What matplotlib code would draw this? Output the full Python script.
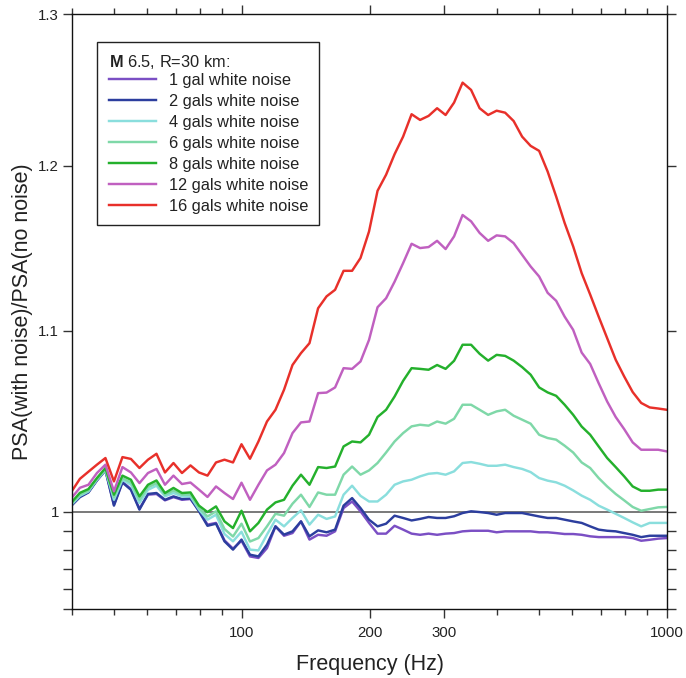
import matplotlib
matplotlib.use("Agg")
import matplotlib.pyplot as plt
from matplotlib.ticker import FixedLocator, NullFormatter, FixedFormatter

plt.rcParams['font.family'] = ['Liberation Sans', 'DejaVu Sans']
plt.rcParams['mathtext.fontset'] = 'custom'
plt.rcParams['mathtext.rm'] = 'Liberation Sans'
plt.rcParams['mathtext.bf'] = 'Liberation Sans:bold'

freq = [39.81, 41.69, 43.65, 45.71, 47.86, 50.12, 52.48, 54.95, 57.54, 60.26,
        63.10, 66.07, 69.18, 72.44, 75.86, 79.43, 83.18, 87.10, 91.20, 95.50,
        100.0, 104.7, 109.6, 114.8, 120.2, 125.9, 131.8, 138.0, 144.5, 151.4,
        158.5, 166.0, 173.8, 182.0, 190.5, 199.5, 208.9, 218.8, 229.1, 239.9,
        251.2, 263.0, 275.4, 288.4, 302.0, 316.2, 331.1, 346.7, 363.1, 380.2,
        398.1, 416.9, 436.5, 457.1, 478.6, 501.2, 524.8, 549.5, 575.4, 602.6,
        631.0, 660.7, 691.8, 724.4, 758.6, 794.3, 831.8, 871.0, 912.0, 955.0,
        1000.0]

noise_1 = [1.0033, 1.0081, 1.0104, 1.0167, 1.0222, 1.0037, 1.0159, 1.0120, 1.0016, 1.0090,
           1.0094, 1.0060, 1.0077, 1.0063, 1.0067, 1.0007, 0.9932, 0.9941, 0.9850, 0.9807,
           0.9848, 0.9767, 0.9759, 0.9810, 0.9923, 0.9874, 0.9888, 0.9949, 0.9854, 0.9879,
           0.9874, 0.9897, 1.0019, 1.0054, 1.0002, 0.9941, 0.9885, 0.9885, 0.9926, 0.9906,
           0.9885, 0.9879, 0.9885, 0.9879, 0.9885, 0.9888, 0.9897, 0.9900, 0.9900, 0.9900,
           0.9892, 0.9897, 0.9897, 0.9897, 0.9897, 0.9892, 0.9892, 0.9888, 0.9883, 0.9883,
           0.9879, 0.9871, 0.9867, 0.9867, 0.9867, 0.9867, 0.9862, 0.9848, 0.9853, 0.9859,
           0.9862]
noise_2 = [1.0032, 1.0077, 1.0102, 1.0166, 1.0220, 1.0032, 1.0155, 1.0116, 1.0011, 1.0094,
           1.0099, 1.0063, 1.0081, 1.0067, 1.0070, 1.0002, 0.9926, 0.9937, 0.9845, 0.9802,
           0.9854, 0.9776, 0.9767, 0.9828, 0.9923, 0.9880, 0.9897, 0.9949, 0.9871, 0.9902,
           0.9892, 0.9906, 1.0032, 1.0072, 1.0019, 0.9958, 0.9923, 0.9937, 0.9979, 0.9967,
           0.9954, 0.9962, 0.9972, 0.9967, 0.9967, 0.9976, 0.9993, 1.0002, 0.9998, 0.9993,
           0.9984, 0.9993, 0.9993, 0.9993, 0.9984, 0.9975, 0.9967, 0.9967, 0.9958, 0.9949,
           0.9941, 0.9923, 0.9906, 0.9900, 0.9897, 0.9888, 0.9879, 0.9867, 0.9874, 0.9874,
           0.9874]
noise_4 = [1.0037, 1.0084, 1.0107, 1.0170, 1.0223, 1.0063, 1.0170, 1.0143, 1.0046, 1.0116,
           1.0138, 1.0081, 1.0099, 1.0081, 1.0081, 1.0011, 0.9958, 0.9984, 0.9883, 0.9845,
           0.9895, 0.9802, 0.9798, 0.9880, 0.9958, 0.9923, 0.9967, 1.0007, 0.9932, 0.9984,
           0.9962, 0.9975, 1.0090, 1.0138, 1.0084, 1.0054, 1.0054, 1.0090, 1.0143, 1.0161,
           1.0170, 1.0188, 1.0202, 1.0206, 1.0197, 1.0215, 1.0260, 1.0265, 1.0256, 1.0245,
           1.0245, 1.0251, 1.0238, 1.0228, 1.0211, 1.0179, 1.0165, 1.0156, 1.0138, 1.0113,
           1.0085, 1.0063, 1.0032, 1.0011, 0.9989, 0.9967, 0.9944, 0.9923, 0.9941, 0.9941,
           0.9941]
noise_6 = [1.0042, 1.0090, 1.0112, 1.0172, 1.0225, 1.0077, 1.0178, 1.0155, 1.0063, 1.0130,
           1.0151, 1.0090, 1.0112, 1.0090, 1.0090, 1.0019, 0.9975, 1.0002, 0.9909, 0.9870,
           0.9937, 0.9844, 0.9862, 0.9923, 0.9989, 0.9979, 1.0042, 1.0090, 1.0025, 1.0102,
           1.0090, 1.0090, 1.0197, 1.0241, 1.0197, 1.0220, 1.0260, 1.0317, 1.0377, 1.0423,
           1.0460, 1.0469, 1.0464, 1.0487, 1.0475, 1.0502, 1.0580, 1.0580, 1.0552, 1.0524,
           1.0543, 1.0552, 1.0519, 1.0497, 1.0475, 1.0414, 1.0396, 1.0387, 1.0354, 1.0317,
           1.0263, 1.0233, 1.0179, 1.0134, 1.0094, 1.0060, 1.0025, 1.0005, 1.0014, 1.0023,
           1.0025]
noise_8 = [1.0049, 1.0100, 1.0120, 1.0179, 1.0233, 1.0090, 1.0192, 1.0170, 1.0081, 1.0143,
           1.0166, 1.0099, 1.0126, 1.0099, 1.0102, 1.0032, 0.9998, 1.0028, 0.9949, 0.9914,
           1.0005, 0.9897, 0.9941, 1.0011, 1.0049, 1.0063, 1.0138, 1.0197, 1.0143, 1.0238,
           1.0233, 1.0241, 1.0350, 1.0377, 1.0372, 1.0414, 1.0512, 1.0552, 1.0626, 1.0714,
           1.0786, 1.0782, 1.0777, 1.0804, 1.0782, 1.0828, 1.0920, 1.0920, 1.0868, 1.0829,
           1.0862, 1.0856, 1.0829, 1.0792, 1.0749, 1.0677, 1.0649, 1.0630, 1.0580, 1.0524,
           1.0459, 1.0414, 1.0350, 1.0287, 1.0238, 1.0188, 1.0134, 1.0111, 1.0111, 1.0117,
           1.0117]
noise_12 = [1.0072, 1.0127, 1.0143, 1.0206, 1.0251, 1.0108, 1.0238, 1.0209, 1.0152, 1.0206,
            1.0228, 1.0143, 1.0192, 1.0147, 1.0155, 1.0117, 1.0078, 1.0134, 1.0099, 1.0067,
            1.0154, 1.0063, 1.0143, 1.0220, 1.0251, 1.0314, 1.0423, 1.0482, 1.0487, 1.0645,
            1.0648, 1.0677, 1.0786, 1.0782, 1.0824, 1.0948, 1.1138, 1.1191, 1.1289, 1.1400,
            1.1517, 1.1491, 1.1497, 1.1535, 1.1485, 1.1562, 1.1693, 1.1654, 1.1583, 1.1535,
            1.1568, 1.1562, 1.1521, 1.1450, 1.1380, 1.1320, 1.1223, 1.1176, 1.1083, 1.1006,
            1.0875, 1.0810, 1.0701, 1.0598, 1.0512, 1.0445, 1.0372, 1.0332, 1.0332, 1.0332,
            1.0323]
noise_16 = [1.0106, 1.0175, 1.0213, 1.0251, 1.0287, 1.0161, 1.0292, 1.0282, 1.0233, 1.0278,
            1.0310, 1.0209, 1.0260, 1.0206, 1.0247, 1.0209, 1.0192, 1.0263, 1.0278, 1.0263,
            1.0362, 1.0283, 1.0377, 1.0487, 1.0552, 1.0664, 1.0804, 1.0872, 1.0929, 1.1132,
            1.1202, 1.1241, 1.1354, 1.1354, 1.1431, 1.1592, 1.1843, 1.1944, 1.2074, 1.2186,
            1.2331, 1.2294, 1.2320, 1.2370, 1.2326, 1.2407, 1.2538, 1.2490, 1.2370, 1.2326,
            1.2354, 1.2341, 1.2287, 1.2186, 1.2127, 1.2095, 1.1964, 1.1808, 1.1644, 1.1501,
            1.1340, 1.1213, 1.1083, 1.0958, 1.0834, 1.0739, 1.0651, 1.0590, 1.0565, 1.0559,
            1.0552]

series = [noise_1, noise_2, noise_4, noise_6, noise_8, noise_12, noise_16]
labels = ["1 gal white noise", "2 gals white noise", "4 gals white noise",
          "6 gals white noise", "8 gals white noise", "12 gals white noise",
          "16 gals white noise"]
colors = ["#7b4fc4", "#2c3e9e", "#8adedd", "#7fd8a8", "#24b02c", "#c060c0", "#e8302a"]

x_major = [100, 200, 300, 1000]
x_major_labels = ["100", "200", "300", "1000"]
x_minor = [40, 50, 60, 70, 80, 90, 400, 500, 600, 700, 800, 900]
y_major = [1.0, 1.1, 1.2, 1.3]
y_major_labels = ["1", "1.1", "1.2", "1.3"]
y_minor = [0.95, 0.96, 0.97, 0.98, 0.99]

W, H = 686, 678
fig = plt.figure(figsize=(W / 100, H / 100), dpi=100)
ax = fig.add_axes([72.3 / W, 1 - 609 / H, (666.7 - 72.3) / W, (609 - 14) / H])

ax.axhline(1.0, color="#555555", lw=1.1, zorder=1)
for vals, lab, col in zip(series, labels, colors):
    ax.plot(freq, vals, color=col, lw=1.75, label=lab, zorder=2)

ax.set_xscale("log")
ax.set_yscale("log")
ax.set_xlim(40, 1000)
ax.set_ylim(0.95, 1.3)

ax.xaxis.set_major_locator(FixedLocator(x_major))
ax.xaxis.set_major_formatter(FixedFormatter(x_major_labels))
ax.xaxis.set_minor_locator(FixedLocator(x_minor))
ax.xaxis.set_minor_formatter(NullFormatter())
ax.yaxis.set_major_locator(FixedLocator(y_major))
ax.yaxis.set_major_formatter(FixedFormatter(y_major_labels))
ax.yaxis.set_minor_locator(FixedLocator(y_minor))
ax.yaxis.set_minor_formatter(NullFormatter())

ax.tick_params(axis="both", which="both", direction="out", top=True, right=True,
               color="#333333", labelsize=10.8, labelcolor="#222222")
ax.tick_params(axis="x", which="major", length=6.5, width=1, pad=6)
ax.tick_params(axis="x", which="minor", length=4, width=1)
ax.tick_params(axis="y", which="major", length=6.5, width=1, pad=3)
ax.tick_params(axis="y", which="minor", length=6.5, width=1)
for sp in ax.spines.values():
    sp.set_linewidth(1.0)
    sp.set_color("#111111")

ax.set_xlabel("Frequency (Hz)", fontsize=15.5, labelpad=10, color="#222222")
ax.set_ylabel("PSA(with noise)/PSA(no noise)", fontsize=15.5, labelpad=4, color="#222222")

leg = ax.legend(loc="upper left", bbox_to_anchor=(97.3 / W, 1 - 41.7 / H),
                bbox_transform=fig.transFigure, borderaxespad=0,
                title=r"$\mathbf{M}$ 6.5, R=30 km:", title_fontsize=11.8,
                fontsize=11.8, alignment="left", frameon=True, fancybox=False,
                edgecolor="#222222", framealpha=1, handlelength=2.9,
                handletextpad=0.75, labelspacing=0.36, borderpad=0.7)
leg._legend_box.sep = 1.4
leg.get_frame().set_linewidth(1.0)
for t in leg.get_texts():
    t.set_color("#222222")
leg.get_title().set_color("#222222")

fig.savefig("out.png", dpi=100)
